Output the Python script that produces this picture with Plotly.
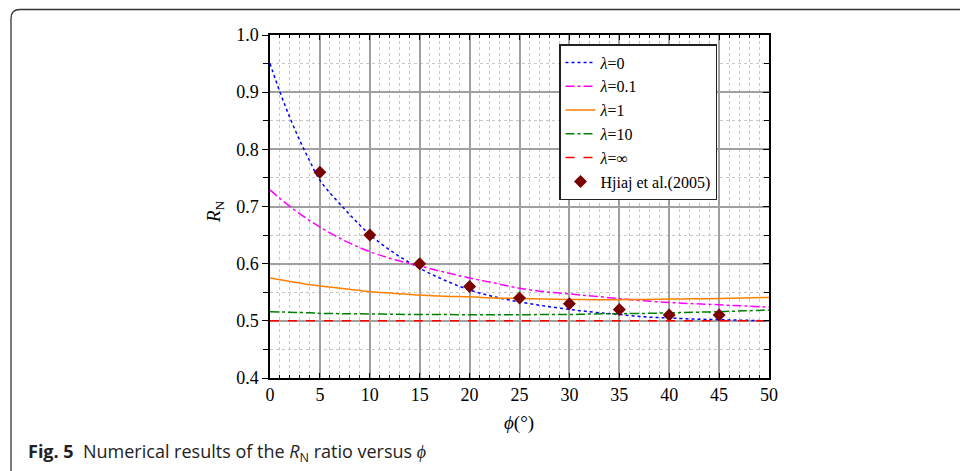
import plotly.graph_objects as go

# ---- data ----
PHI = [0, 1, 2, 3, 4, 5, 7.5, 10, 12.5, 15, 17.5, 20, 22.5, 25, 27.5, 30,
       32.5, 35, 37.5, 40, 42.5, 45, 47.5, 50]
R_LAMBDA_0 = [0.950, 0.900, 0.855, 0.815, 0.779, 0.746, 0.695, 0.651, 0.618, 0.592,
              0.571, 0.554, 0.542, 0.533, 0.526, 0.520, 0.515, 0.511, 0.507, 0.505,
              0.503, 0.502, 0.501, 0.500]
R_LAMBDA_01 = [0.729, 0.714, 0.700, 0.687, 0.675, 0.664, 0.640, 0.621, 0.607, 0.596,
               0.585, 0.575, 0.566, 0.557, 0.551, 0.547, 0.543, 0.539, 0.535, 0.532,
               0.530, 0.528, 0.526, 0.524]
R_LAMBDA_1 = [0.575, 0.572, 0.569, 0.566, 0.563, 0.561, 0.556, 0.551, 0.548, 0.545,
              0.543, 0.542, 0.540, 0.539, 0.538, 0.5375, 0.537, 0.537, 0.5375, 0.538,
              0.5385, 0.539, 0.540, 0.541]
R_LAMBDA_10 = [0.516, 0.5155, 0.515, 0.5145, 0.514, 0.513, 0.5125, 0.512, 0.5115, 0.511,
               0.511, 0.5105, 0.5105, 0.5105, 0.511, 0.511, 0.512, 0.5125, 0.513, 0.514,
               0.515, 0.516, 0.5175, 0.519]
PHI_INF = [0, 50]
R_LAMBDA_INF = [0.5, 0.5]
HJIAJ_PHI = [5, 10, 15, 20, 25, 30, 35, 40, 45]
HJIAJ_R = [0.76, 0.65, 0.60, 0.56, 0.54, 0.53, 0.52, 0.51, 0.51]

X_TICKS = [0, 5, 10, 15, 20, 25, 30, 35, 40, 45, 50]
Y_TICKS = [0.4, 0.5, 0.6, 0.7, 0.8, 0.9, 1.0]
Y_TICK_TEXT = ["0.4", "0.5", "0.6", "0.7", "0.8", "0.9", "1.0"]

SERIF = "Liberation Serif"

fig = go.Figure()
fig.add_trace(go.Scatter(x=PHI, y=R_LAMBDA_0, mode="lines", name="<i>λ</i>=0",
                         line=dict(color="#0000ff", width=1.5, dash="dot", shape="spline")))
fig.add_trace(go.Scatter(x=PHI, y=R_LAMBDA_01, mode="lines", name="<i>λ</i>=0.1",
                         line=dict(color="#ff00ff", width=1.5, dash="dashdot", shape="spline")))
fig.add_trace(go.Scatter(x=PHI, y=R_LAMBDA_1, mode="lines", name="<i>λ</i>=1",
                         line=dict(color="#ff8000", width=1.5, shape="spline")))
fig.add_trace(go.Scatter(x=PHI, y=R_LAMBDA_10, mode="lines", name="<i>λ</i>=10",
                         line=dict(color="#008000", width=1.5, dash="dashdot", shape="spline")))
fig.add_trace(go.Scatter(x=PHI_INF, y=R_LAMBDA_INF, mode="lines", name="<i>λ</i>=∞",
                         line=dict(color="#ff0000", width=1.5, dash="dash"), yaxis="y2"))
fig.add_trace(go.Scatter(x=HJIAJ_PHI, y=HJIAJ_R, mode="markers", name="Hjiaj et al.(2005)",
                         marker=dict(symbol="diamond", size=10, color="#7a0000")))

px = lambda v: (v - 270) / 499
py = lambda v: (378 - v) / 343

fig.update_layout(
    width=960, height=471,
    margin=dict(l=270, r=191, t=35, b=93),
    paper_bgcolor="white", plot_bgcolor="white",
    font=dict(family=SERIF, size=18, color="black"),
    showlegend=True,
    legend=dict(x=px(559), y=py(44), xanchor="left", yanchor="top",
                bgcolor="white", bordercolor="#222222", borderwidth=1.5,
                font=dict(family=SERIF, size=16, color="black"),
                tracegroupgap=0, entrywidth=135, entrywidthmode="pixels"),
    xaxis=dict(range=[0, 50], tickvals=X_TICKS, ticktext=[str(v) for v in X_TICKS],
               ticks="inside", ticklen=5, tickcolor="black", tickwidth=1,
               showline=True, linecolor="black", linewidth=1.5, mirror="ticks",
               showgrid=True, gridcolor="#a0a0a0", gridwidth=1.5, zeroline=False,
               tickfont=dict(family=SERIF, size=18),
               minor=dict(dtick=1, ticks="inside", ticklen=3, tickcolor="black",
                          showgrid=True, gridcolor="#c8c8c8", gridwidth=1, griddash="dot")),
    yaxis=dict(range=[0.4, 1.0], tickvals=Y_TICKS, ticktext=Y_TICK_TEXT,
               ticks="outside", ticklen=6, tickcolor="black", tickwidth=1,
               showline=True, linecolor="black", linewidth=1.5,
               showgrid=True, gridcolor="#a0a0a0", gridwidth=1.5, zeroline=False,
               tickfont=dict(family=SERIF, size=18),
               minor=dict(dtick=0.05, ticks="outside", ticklen=5, tickcolor="black",
                          showgrid=True, gridcolor="#c8c8c8", gridwidth=1, griddash="dot")),
    yaxis2=dict(range=[0.4, 1.0], overlaying="y", side="right", tickvals=Y_TICKS,
                showticklabels=False, ticks="inside", ticklen=6, tickcolor="black",
                showline=True, linecolor="black", linewidth=1.5, showgrid=False,
                zeroline=False,
                minor=dict(dtick=0.05, ticks="inside", ticklen=5, tickcolor="black",
                           showgrid=False)),
)

# axis titles
fig.add_annotation(text="<i>R</i><sub>N</sub>", xref="paper", yref="paper",
                   x=px(215), y=py(212), textangle=-90, xanchor="center", yanchor="middle",
                   showarrow=False, font=dict(family=SERIF, size=19, color="black"))
fig.add_annotation(text="<i>ϕ</i>(°)", xref="paper", yref="paper",
                   x=px(519), y=py(423), xanchor="center", yanchor="middle",
                   showarrow=False, font=dict(family=SERIF, size=19, color="black"))
# caption
fig.add_annotation(text="<b>Fig. 5</b>  Numerical results of the <i>R</i><sub>N</sub> ratio versus <i>ϕ</i>",
                   xref="paper", yref="paper", x=px(26), y=py(452),
                   xanchor="left", yanchor="middle", showarrow=False,
                   font=dict(family="Open Sans", size=18, color="#222222"))

# outer frame (rounded top-left corner, open to right/bottom)
xl, yt = px(11), py(9.5)
xr, yb = px(962), py(475)
rx, ry = 9 / 499, 9 / 343
path = (f"M {xl},{yb} L {xl},{yt - ry} Q {xl},{yt} {xl + rx},{yt} L {xr},{yt}")
fig.add_shape(type="path", path=path, xref="paper", yref="paper",
              line=dict(color="#333333", width=1.3))

fig.write_html("out.html", config={"displayModeBar": False},
               post_script="document.body.style.margin='0';")
